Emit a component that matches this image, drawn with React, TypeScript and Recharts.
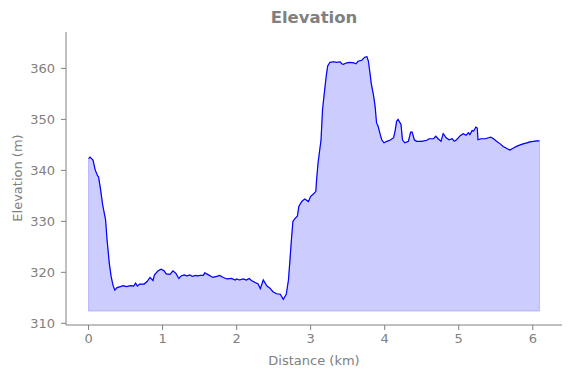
import React from "react";
import {
  ComposedChart,
  Area,
  Line,
  XAxis,
  YAxis,
  ReferenceLine,
} from "recharts";

// distance along the route (km) and elevation (m)
const distanceKm = [
  0.0, 0.02, 0.06, 0.09, 0.12, 0.135, 0.16, 0.19, 0.23, 0.25, 0.28, 0.305, 0.33,
  0.355, 0.385, 0.43, 0.47, 0.51, 0.57, 0.61, 0.635, 0.66, 0.69, 0.75, 0.79,
  0.83, 0.87, 0.89, 0.94, 0.98, 1.02, 1.05, 1.1, 1.14, 1.18, 1.22, 1.25, 1.29,
  1.33, 1.37, 1.4, 1.45, 1.47, 1.51, 1.55, 1.57, 1.62, 1.68, 1.73, 1.77, 1.82,
  1.87, 1.93, 1.98, 2.0, 2.04, 2.09, 2.13, 2.17, 2.2, 2.25, 2.29, 2.32, 2.36,
  2.41, 2.45, 2.49, 2.54, 2.59, 2.63, 2.67, 2.7, 2.72, 2.74, 2.76, 2.79, 2.82,
  2.84, 2.88, 2.92, 2.97, 3.0, 3.04, 3.07, 3.08, 3.1, 3.14, 3.16, 3.18, 3.21,
  3.23, 3.26, 3.31, 3.35, 3.4, 3.42, 3.44, 3.49, 3.53, 3.58, 3.61, 3.64, 3.69,
  3.73, 3.76, 3.78, 3.8, 3.82, 3.85, 3.87, 3.89, 3.91, 3.94, 3.96, 3.99, 4.03,
  4.07, 4.12, 4.14, 4.16, 4.18, 4.22, 4.24, 4.27, 4.32, 4.35, 4.37, 4.4, 4.43,
  4.5, 4.57, 4.6, 4.66, 4.69, 4.72, 4.76, 4.79, 4.83, 4.87, 4.91, 4.94, 4.97,
  5.02, 5.06, 5.1, 5.13, 5.15, 5.18, 5.2, 5.22, 5.23, 5.25, 5.26, 5.3, 5.36,
  5.4, 5.43, 5.47, 5.51, 5.56, 5.6, 5.65, 5.69, 5.74, 5.78, 5.83, 5.87, 5.92,
  5.96, 6.01, 6.06, 6.09,
];
const elevationM = [
  342.3, 342.6, 342.0, 340.1, 339.0, 338.7, 336.5, 333.3, 330.3, 326.4, 321.8,
  319.2, 317.5, 316.5, 317.0, 317.2, 317.4, 317.2, 317.4, 317.3, 317.9, 317.3,
  317.7, 317.7, 318.2, 319.0, 318.4, 319.5, 320.3, 320.6, 320.3, 319.7, 319.6,
  320.3, 319.8, 318.8, 319.3, 319.5, 319.3, 319.5, 319.2, 319.4, 319.3, 319.4,
  319.4, 319.9, 319.5, 319.0, 319.2, 319.4, 319.0, 318.7, 318.8, 318.5, 318.7,
  318.5, 318.7, 318.5, 318.8, 318.4, 318.0, 317.7, 316.8, 318.5, 317.3, 316.9,
  316.2, 315.8, 315.7, 314.7, 315.7, 318.5, 322.4, 326.4, 330.0, 330.6, 331.0,
  332.9, 333.9, 334.4, 333.9, 334.9, 335.4, 335.9, 338.2, 341.5, 346.0, 351.9,
  354.6, 358.5, 360.5, 361.2, 361.3, 361.2, 361.3, 360.9, 360.8, 361.1, 361.2,
  361.1, 360.9, 361.4, 361.6, 362.2, 362.3, 361.4, 359.2, 356.9, 354.6, 352.6,
  349.3, 348.7, 347.0, 346.0, 345.4, 345.7, 345.9, 346.4, 347.7, 349.6, 350.0,
  349.0, 346.0, 345.4, 345.7, 347.5, 347.5, 346.0, 345.7, 345.7, 345.9, 346.2,
  346.2, 346.7, 346.2, 345.7, 347.2, 346.4, 346.0, 346.2, 345.7, 346.0, 346.8,
  347.2, 346.9, 347.4, 347.0, 347.8, 347.7, 348.2, 348.5, 348.3, 346.0, 346.2,
  346.2, 346.4, 346.5, 346.2, 345.7, 345.2, 344.7, 344.3, 344.0, 344.4, 344.7,
  345.0, 345.2, 345.4, 345.6, 345.7, 345.8, 345.8,
];
const xTicks = [0, 1, 2, 3, 4, 5, 6];
const yTicks = [310, 320, 330, 340, 350, 360];
const fillBase = 312.4;

const data = distanceKm.map((d, i) => ({ d, e: elevationM[i] }));
const lastD = distanceKm[distanceKm.length - 1];
const firstE = elevationM[0];
const lastE = elevationM[elevationM.length - 1];

const GREY = "#808080";
const FONT = "'DejaVu Sans', sans-serif";
const edge = "rgba(0,0,255,0.2)";

export default function App() {
  return (
    <div
      style={{
        position: "absolute",
        left: 0,
        top: 0,
        width: 571,
        height: 378,
        fontFamily: FONT,
        background: "#fff",
      }}
    >
      <div
        style={{
          position: "absolute",
          left: 214,
          width: 200,
          top: 8,
          textAlign: "center",
          fontSize: 16.5,
          fontWeight: "bold",
          color: GREY,
        }}
      >
        Elevation
      </div>
      <div
        style={{
          position: "absolute",
          left: 214,
          width: 200,
          top: 353,
          textAlign: "center",
          fontSize: 13,
          color: GREY,
        }}
      >
        Distance (km)
      </div>
      <div
        style={{
          position: "absolute",
          left: 17,
          top: 178,
          transform: "translate(-50%, -50%) rotate(-90deg)",
          whiteSpace: "nowrap",
          fontSize: 13,
          color: GREY,
        }}
      >
        Elevation (m)
      </div>
      <ComposedChart
        width={571}
        height={378}
        data={data}
        margin={{ top: 32, right: 9, bottom: 0, left: 0 }}
        style={{ position: "absolute", left: 0, top: 0 }}
      >
        <XAxis
          dataKey="d"
          type="number"
          domain={[-0.3045, 6.3945]}
          ticks={xTicks}
          allowDataOverflow
          height={53}
          stroke={GREY}
          tickSize={5}
          tickMargin={4}
          tick={{ fill: GREY, fontSize: 13, fontFamily: FONT }}
          tickLine={{ stroke: GREY }}
        />
        <YAxis
          type="number"
          domain={[309.67, 367.14]}
          ticks={yTicks}
          allowDataOverflow
          width={66}
          stroke={GREY}
          tickSize={5}
          tickMargin={6}
          tick={{ fill: GREY, fontSize: 13, fontFamily: FONT }}
          tickLine={{ stroke: GREY }}
        />
        <Area
          type="linear"
          dataKey="e"
          baseValue={fillBase}
          fill="#0000ff"
          fillOpacity={0.2}
          stroke={edge}
          strokeWidth={1}
          isAnimationActive={false}
        />
        <ReferenceLine
          segment={[
            { x: 0, y: fillBase },
            { x: lastD, y: fillBase },
          ]}
          stroke={edge}
        />
        <ReferenceLine
          segment={[
            { x: 0, y: fillBase },
            { x: 0, y: firstE },
          ]}
          stroke={edge}
        />
        <ReferenceLine
          segment={[
            { x: lastD, y: fillBase },
            { x: lastD, y: lastE },
          ]}
          stroke={edge}
        />
        <Line
          type="linear"
          dataKey="e"
          stroke="#0000ff"
          strokeWidth={1.2}
          dot={false}
          activeDot={false}
          isAnimationActive={false}
        />
      </ComposedChart>
    </div>
  );
}
